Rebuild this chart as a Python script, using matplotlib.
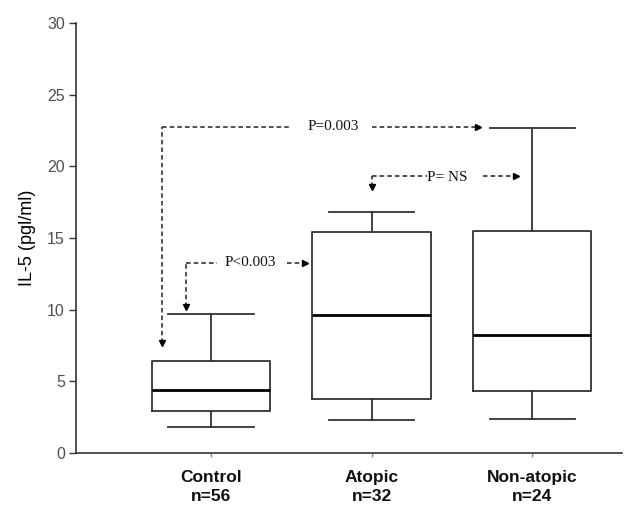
import matplotlib
matplotlib.use("Agg")
import matplotlib.pyplot as plt

# box statistics (pg/ml)
groups = ["Control", "Atopic", "Non-atopic"]
counts = [56, 32, 24]
whislo = [1.8, 2.3, 2.4]
q1 = [2.9, 3.8, 4.3]
med = [4.4, 9.6, 8.2]
q3 = [6.4, 15.4, 15.5]
whishi = [9.7, 16.8, 22.7]

yticks = [0, 5, 10, 15, 20, 25, 30]

stats = []
for i, g in enumerate(groups):
    stats.append(dict(label=g, whislo=whislo[i], q1=q1[i], med=med[i],
                      q3=q3[i], whishi=whishi[i], fliers=[]))

fig = plt.figure(figsize=(6.32, 5.08), dpi=100)
ax = fig.add_axes([76/632, 55/508, 546/632, 430/508])

pos = [1, 2, 3]
ax.bxp(stats, positions=pos, widths=0.74, showfliers=False,
       boxprops=dict(color='#333333', linewidth=1.3),
       whiskerprops=dict(color='#333333', linewidth=1.3),
       capprops=dict(color='#333333', linewidth=1.3),
       medianprops=dict(color='black', linewidth=2.0),
       capwidths=0.53)

ax.set_xlim(0.159, 3.56)
ax.set_ylim(0, 30)
ax.set_yticks(yticks)
ax.set_xticks(pos)
ax.set_xticklabels([f"{g}\nn={n}" for g, n in zip(groups, counts)],
                   fontsize=12.5, fontweight='bold', family='Liberation Sans',
                   color='#111111', linespacing=1.4)
for lab in ax.get_yticklabels():
    lab.set_fontsize(11.5)
    lab.set_color('#505050')
    lab.set_family('Liberation Sans')
ax.tick_params(axis='y', length=5, width=1, color='#333333', pad=3)
ax.tick_params(axis='x', length=3, width=1, color='#888888', pad=9)
ax.set_ylabel("IL-5 (pgl/ml)", fontsize=13, family='Liberation Sans', labelpad=8)
for s in ['top', 'right']:
    ax.spines[s].set_visible(False)
for s in ['left', 'bottom']:
    ax.spines[s].set_color('#333333')
    ax.spines[s].set_linewidth(1.2)

dash = dict(color='#222222', linestyle=(0, (3, 2)), linewidth=1.1)
tfont = dict(family='Liberation Serif', fontsize=11, color='#111111',
             ha='center', va='center')

# P=0.003 : Control -> Non-atopic
ax.plot([0.693, 0.693], [7.7, 22.75], **dash)
ax.plot([0.693, 1.49], [22.75, 22.75], **dash)
ax.plot([2.003, 2.66], [22.75, 22.75], **dash)
ax.plot([0.693], [7.7], marker='v', color='black', markersize=5)
ax.plot([2.66], [22.75], marker='>', color='black', markersize=5)
ax.text(1.763, 22.75, "P=0.003", **tfont)

# P<0.003 : Control -> Atopic
ax.plot([0.844, 0.844], [10.2, 13.26], **dash)
ax.plot([0.844, 1.037], [13.26, 13.26], **dash)
ax.plot([1.474, 1.585], [13.26, 13.26], **dash)
ax.plot([0.844], [10.2], marker='v', color='black', markersize=5)
ax.plot([1.585], [13.26], marker='>', color='black', markersize=5)
ax.text(1.246, 13.26, "P<0.003", **tfont)

# P= NS : Atopic -> Non-atopic
ax.plot([2.003, 2.003], [18.55, 19.33], **dash)
ax.plot([2.003, 2.346], [19.33, 19.33], **dash)
ax.plot([2.695, 2.90], [19.33, 19.33], **dash)
ax.plot([2.003], [18.55], marker='v', color='black', markersize=5)
ax.plot([2.90], [19.33], marker='>', color='black', markersize=5)
ax.text(2.47, 19.2, "P= NS", **tfont)

fig.savefig("out.png", dpi=100)
